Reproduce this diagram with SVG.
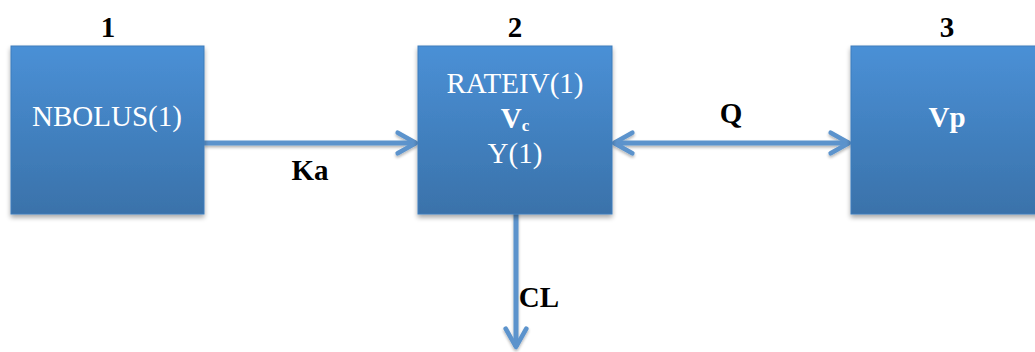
<svg xmlns="http://www.w3.org/2000/svg" width="1035" height="352" viewBox="0 0 1035 352">
<defs>
<linearGradient id="g" x1="0" y1="0" x2="0" y2="1">
<stop offset="0" stop-color="#4a90d6"/>
<stop offset="1" stop-color="#3a72aa"/>
</linearGradient>
<filter id="sh" x="-10%" y="-10%" width="130%" height="130%">
<feGaussianBlur in="SourceAlpha" stdDeviation="2.5"/>
<feOffset dx="0" dy="3" result="b"/>
<feComponentTransfer><feFuncA type="linear" slope="0.35"/></feComponentTransfer>
<feMerge><feMergeNode/><feMergeNode in="SourceGraphic"/></feMerge>
</filter>
<filter id="lsh" filterUnits="userSpaceOnUse" x="0" y="0" width="1035" height="352">
<feGaussianBlur in="SourceAlpha" stdDeviation="1.5"/>
<feOffset dx="0" dy="2" result="b"/>
<feComponentTransfer><feFuncA type="linear" slope="0.3"/></feComponentTransfer>
<feMerge><feMergeNode/><feMergeNode in="SourceGraphic"/></feMerge>
</filter>
<marker id="ah" viewBox="0 0 12 12" refX="10" refY="6" markerWidth="5.5" markerHeight="5.5" orient="auto-start-reverse" markerUnits="strokeWidth">
<path d="M2,1.5 L10,6 L2,10.5" fill="none" stroke="#5b93cc" stroke-width="2" stroke-linecap="round" stroke-linejoin="round"/>
</marker>
</defs>
<style>
.box{fill:url(#g);stroke:#3f7cbb;stroke-width:1;filter:url(#sh)}
.wt{fill:#ffffff;font-family:"Liberation Serif",serif;font-size:29px;text-anchor:middle}
.bt{fill:#000000;font-family:"Liberation Serif",serif;font-size:29px;font-weight:bold;text-anchor:middle}
.con{fill:none;stroke:#5b93cc;stroke-width:5}
</style>
<g id="connectors" filter="url(#lsh)">
<line class="con" x1="204" y1="143" x2="416" y2="143" marker-end="url(#ah)"/>
<line class="con" x1="614" y1="143" x2="849" y2="143" marker-start="url(#ah)" marker-end="url(#ah)"/>
<line class="con" x1="516" y1="205" x2="516" y2="347" marker-end="url(#ah)"/>
</g>
<g id="labels">
<text class="bt" x="310" y="180">Ka</text>
<text class="bt" x="731" y="123">Q</text>
<text class="bt" x="539" y="307">CL</text>
</g>
<g id="node1">
<rect class="box" x="11" y="46" width="193" height="168"/>
<text class="bt" x="108" y="37">1</text>
<text class="wt" x="107" y="126">NBOLUS(1)</text>
</g>
<g id="node2">
<rect class="box" x="418" y="46" width="194" height="168"/>
<text class="bt" x="515" y="37">2</text>
<text class="wt" x="515" y="93">RATEIV(1)</text>
<text class="wt" x="515" y="128" font-weight="bold">V<tspan font-size="17" dy="3">c</tspan></text>
<text class="wt" x="515" y="163">Y(1)</text>
</g>
<g id="node3">
<rect class="box" x="851" y="46" width="194" height="168"/>
<text class="bt" x="947" y="37">3</text>
<text class="wt" x="947" y="127" font-weight="bold">Vp</text>
</g>
</svg>
